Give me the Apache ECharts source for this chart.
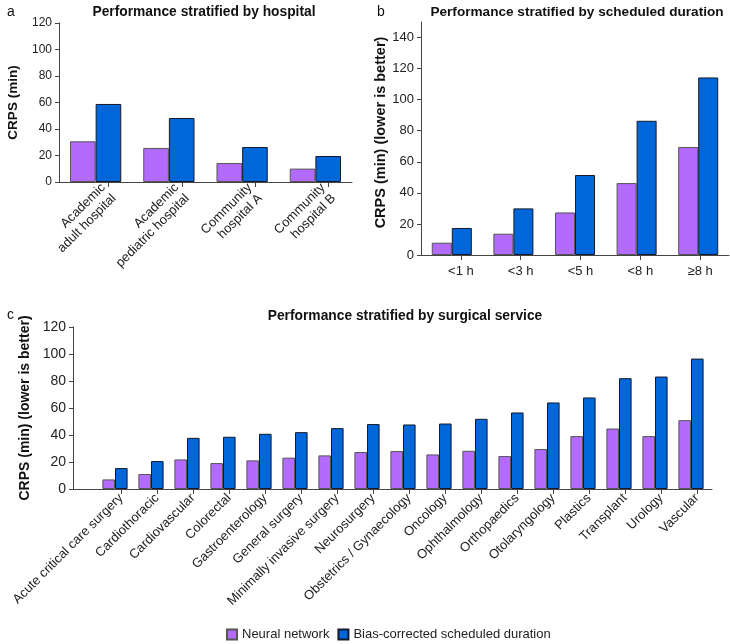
<!DOCTYPE html>
<html>
<head>
<meta charset="utf-8">
<script src="https://cdn.jsdelivr.net/npm/echarts@6/dist/echarts.min.js"></script>
<style>
  html, body { margin: 0; padding: 0; background: #fff; }
  #main { width: 730px; height: 644px; }
</style>
</head>
<body>
<div id="main"></div>
<script>
// panel a - by hospital
var hospitals = ['Academic\nadult hospital', 'Academic\npediatric hospital', 'Community\nhospital A', 'Community\nhospital B'];
var hospNN = [30.7, 25.7, 14.3, 10.1];
var hospBC = [58.9, 48.3, 26.4, 19.6];

// panel b - by scheduled duration
var durations = ['<1 h', '<3 h', '<5 h', '<8 h', '≥8 h'];
var durNN = [7.9, 13.7, 27.4, 46.3, 69.5];
var durBC = [17.4, 30.0, 51.5, 86.4, 114.3];

// panel c - by surgical service
var services = ['Acute critical care surgery', 'Cardiothoracic', 'Cardiovascular', 'Colorectal',
  'Gastroenterology', 'General surgery', 'Minimally invasive surgery', 'Neurosurgery',
  'Obstetrics / Gynaecology', 'Oncology', 'Ophthalmology', 'Orthopaedics', 'Otolaryngology',
  'Plastics', 'Transplant', 'Urology', 'Vascular'];
var svcNN = [7.1, 11.1, 21.9, 19.2, 21.2, 23.2, 24.9, 27.4, 28.1, 25.6, 28.3, 24.4, 29.6, 39.2, 44.8, 39.2, 51.0];
var svcBC = [15.5, 20.7, 37.9, 38.7, 40.9, 42.1, 45.1, 48.1, 47.8, 48.5, 52.0, 56.7, 64.1, 67.8, 82.1, 83.3, 96.6];

var seriesNames = ['Neural network', 'Bias-corrected scheduled duration'];

var FONT = 'Liberation Sans';
var TXT = '#222';
var AXC = '#444';
var PURPLE = '#b36bfd';
var BLUE = '#0067da';

var chart = echarts.init(document.getElementById('main'));

function yAx(gi, max, interval, name, gap, fs, nameFs, offset, namePad) {
  return {
    type: 'value', gridIndex: gi, min: 0, max: max, interval: interval, offset: offset || 0,
    name: name, nameLocation: 'middle', nameGap: gap,
    nameTextStyle: { fontFamily: FONT, fontWeight: 'bold', fontSize: nameFs, color: '#111', padding: namePad || 0 },
    axisLine: { show: true, lineStyle: { color: AXC, width: 1 } },
    axisTick: { show: true, length: 4, lineStyle: { color: AXC } },
    axisLabel: { fontFamily: FONT, fontSize: fs, color: TXT, margin: 7, showMaxLabel: max % interval === 0 },
    splitLine: { show: false }
  };
}
function hiddenY(gi) {
  return { type: 'value', gridIndex: gi, show: false, min: 0, max: 1 };
}
// x axis carrying the bars
function barX(gi, cats, line) {
  return {
    type: 'category', gridIndex: gi, data: cats,
    axisLine: { show: line, lineStyle: { color: AXC, width: 1 } },
    axisTick: { show: false }, axisLabel: { show: false }
  };
}
// x axis carrying ticks and labels (shifted under the blue bars)
function labelX(gi, cats, rotate, margin, fs) {
  return {
    type: 'category', gridIndex: gi, data: cats,
    axisLine: { show: false },
    axisTick: { show: true, alignWithLabel: true, length: 5, lineStyle: { color: AXC } },
    axisLabel: { interval: 0, rotate: rotate, margin: margin, fontFamily: FONT, fontSize: fs, color: TXT, lineHeight: fs + 2 }
  };
}
function bars(xi, nn, bc, gap) {
  return [
    { name: seriesNames[0], type: 'bar', xAxisIndex: xi, yAxisIndex: xi, data: nn, barGap: '0%', barCategoryGap: gap,
      itemStyle: { color: PURPLE, borderColor: '#555', borderWidth: 1 } },
    { name: seriesNames[1], type: 'bar', xAxisIndex: xi, yAxisIndex: xi, data: bc, barGap: '0%', barCategoryGap: gap,
      itemStyle: { color: BLUE, borderColor: '#151a2a', borderWidth: 1 } }
  ];
}

function titleStyle(fs) {
  return { fontFamily: FONT, fontSize: fs, fontWeight: 'bold', color: '#111' };
}
var letterStyle = { fontFamily: FONT, fontSize: 14, fontWeight: 'normal', color: '#111' };

var option = {
  animation: false,
  backgroundColor: '#fff',
  textStyle: { fontFamily: FONT },
  title: [
    { text: 'a', left: 2, top: 0, textStyle: letterStyle },
    { text: 'b', left: 372, top: 0, textStyle: letterStyle },
    { text: 'c', left: 2, top: 303, textStyle: letterStyle },
    { text: 'Performance stratified by hospital', left: 199, top: 0, textAlign: 'center', textStyle: titleStyle(13.8) },
    { text: 'Performance stratified by scheduled duration', left: 572, top: 0, textAlign: 'center', textStyle: titleStyle(13.6) },
    { text: 'Performance stratified by surgical service', left: 400, top: 304, textAlign: 'center', textStyle: titleStyle(13.8) }
  ],
  legend: {
    data: seriesNames, left: 226, top: 628, padding: 0, icon: 'rect', itemWidth: 10, itemHeight: 10, itemGap: 8,
    textStyle: { fontFamily: FONT, fontSize: 13, color: TXT }
  },
  grid: [
    { left: 59, top: 23, width: 293, height: 159 },
    { left: 72, top: 23, width: 293, height: 159 },
    { left: 421, top: 22, width: 308, height: 233 },
    { left: 431, top: 22, width: 308, height: 233 },
    { left: 97, top: 327, width: 612, height: 162 },
    { left: 103, top: 327, width: 612, height: 162 },
    { left: 73, top: 327, width: 639, height: 162 }
  ],
  xAxis: [
    barX(0, hospitals, true),
    labelX(1, hospitals, 45, 9, 13),
    barX(2, durations, true),
    labelX(3, durations, 0, 9, 13),
    barX(4, services, false),
    labelX(5, services, 45, 7, 13),
    { type: 'value', gridIndex: 6, min: 0, max: 1, axisLine: { show: true, lineStyle: { color: AXC } },
      axisTick: { show: false }, axisLabel: { show: false }, splitLine: { show: false } }
  ],
  yAxis: [
    yAx(0, 120, 20, 'CRPS (min)', 39, 12, 13.5),
    hiddenY(1),
    yAx(2, 150, 20, 'CRPS (min) (lower is better)', 33, 13, 14.5, 0, [0, 0, 0, 12]),
    hiddenY(3),
    yAx(4, 120, 20, 'CRPS (min) (lower is better)', 40, 14, 14, 24),
    hiddenY(5),
    hiddenY(6)
  ],
  series: [].concat(
    bars(0, hospNN, hospBC, '30%'),
    bars(2, durNN, durBC, '35%'),
    bars(4, svcNN, svcBC, '30%')
  )
};

chart.setOption(option);
window.addEventListener('resize', function () { chart.resize(); });
</script>
</body>
</html>
